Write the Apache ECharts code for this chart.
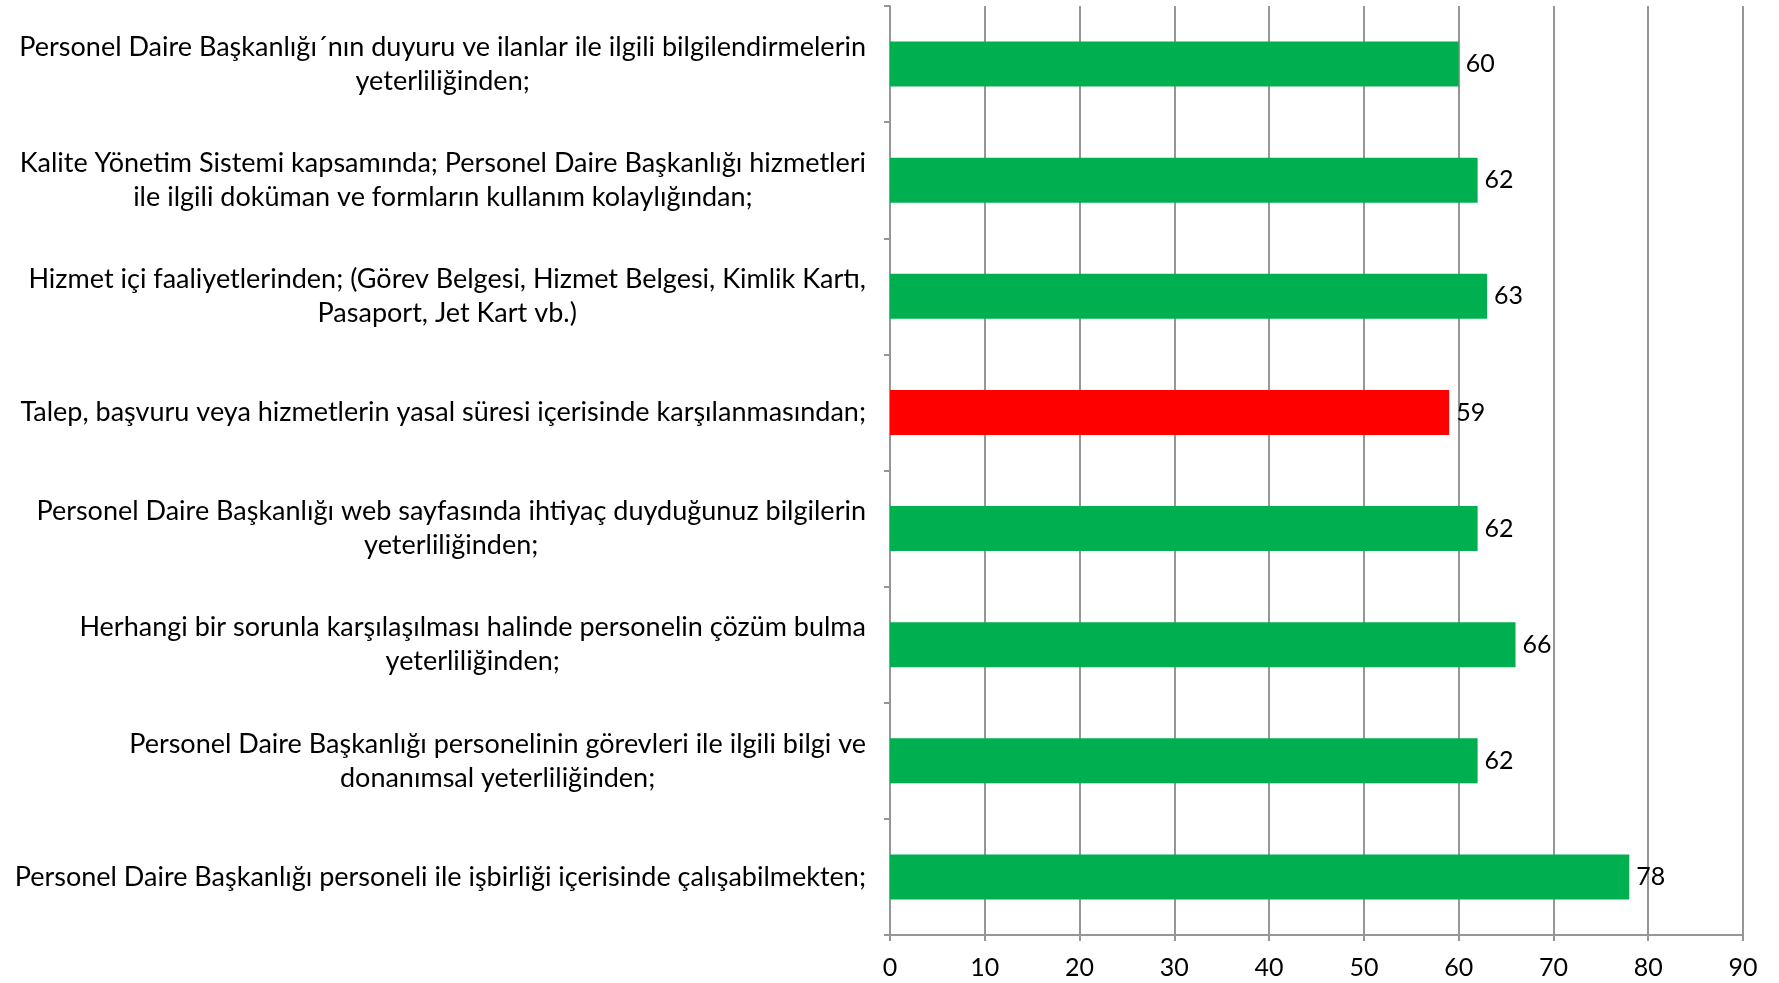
<!DOCTYPE html>
<html>
<head>
<meta charset="utf-8">
<script src="https://cdn.jsdelivr.net/npm/echarts@6/dist/echarts.min.js"></script>
<style>
html, body { margin: 0; padding: 0; background: #fff; }
#main { width: 1779px; height: 983px; }
</style>
</head>
<body>
<div id="main"></div>
<script>
var categories = [
    'Personel Daire Başkanlığı´nın duyuru ve ilanlar ile ilgili bilgilendirmelerin\nyeterliliğinden;',
    'Kalite Yönetim Sistemi kapsamında; Personel Daire Başkanlığı hizmetleri\nile ilgili doküman ve formların kullanım kolaylığından;',
    'Hizmet içi faaliyetlerinden; (Görev Belgesi, Hizmet Belgesi, Kimlik Kartı,\nPasaport, Jet Kart vb.)',
    'Talep, başvuru veya hizmetlerin yasal süresi içerisinde karşılanmasından;',
    'Personel Daire Başkanlığı web sayfasında ihtiyaç duyduğunuz bilgilerin\nyeterliliğinden;',
    'Herhangi bir sorunla karşılaşılması halinde personelin çözüm bulma\nyeterliliğinden;',
    'Personel Daire Başkanlığı personelinin görevleri ile ilgili bilgi ve\ndonanımsal yeterliliğinden;',
    'Personel Daire Başkanlığı personeli ile işbirliği içerisinde çalışabilmekten;'
];
var values = [60, 62, 63, 59, 62, 66, 62, 78];
var lowIndex = 3; // red bar

(function () {
    var myChart = echarts.init(document.getElementById('main'));
    var font = 'Lato';

    var data = values.map(function (v, i) {
        return {
            value: v,
            itemStyle: { color: i === lowIndex ? '#FF0000' : '#00B050' }
        };
    });

    var option = {
        animation: false,
        grid: {
            left: 890,
            right: 36,
            top: 6,
            bottom: 48
        },
        xAxis: {
            type: 'value',
            min: 0,
            max: 90,
            interval: 10,
            axisLine: { show: true, lineStyle: { color: '#969696', width: 2 } },
            axisTick: { show: true, length: 6, lineStyle: { color: '#969696', width: 2 } },
            axisLabel: { color: '#000', fontFamily: font, fontSize: 25, margin: 20 },
            splitLine: { show: true, lineStyle: { color: '#969696', width: 2 } }
        },
        yAxis: {
            type: 'category',
            inverse: true,
            data: categories,
            axisLine: { show: true, lineStyle: { color: '#969696', width: 2 } },
            axisTick: { show: true, length: 6, lineStyle: { color: '#969696', width: 2 } },
            axisLabel: {
                color: '#000',
                fontFamily: font,
                fontSize: 27,
                lineHeight: 34,
                margin: 24,
                align: 'right',
                formatter: function (val) {
                    return val.split('\n').map(function (l) {
                        return '{c|' + l + '}';
                    }).join('\n');
                },
                rich: {
                    c: {
                        align: 'center',
                        fontFamily: font,
                        fontSize: 27,
                        lineHeight: 34,
                        color: '#000'
                    }
                }
            }
        },
        series: [
            {
                type: 'bar',
                data: data,
                barWidth: 45,
                label: {
                    show: true,
                    position: 'right',
                    distance: 7,
                    color: '#000',
                    fontFamily: font,
                    fontSize: 25
                }
            }
        ]
    };

    myChart.setOption(option);
})();
</script>
</body>
</html>
